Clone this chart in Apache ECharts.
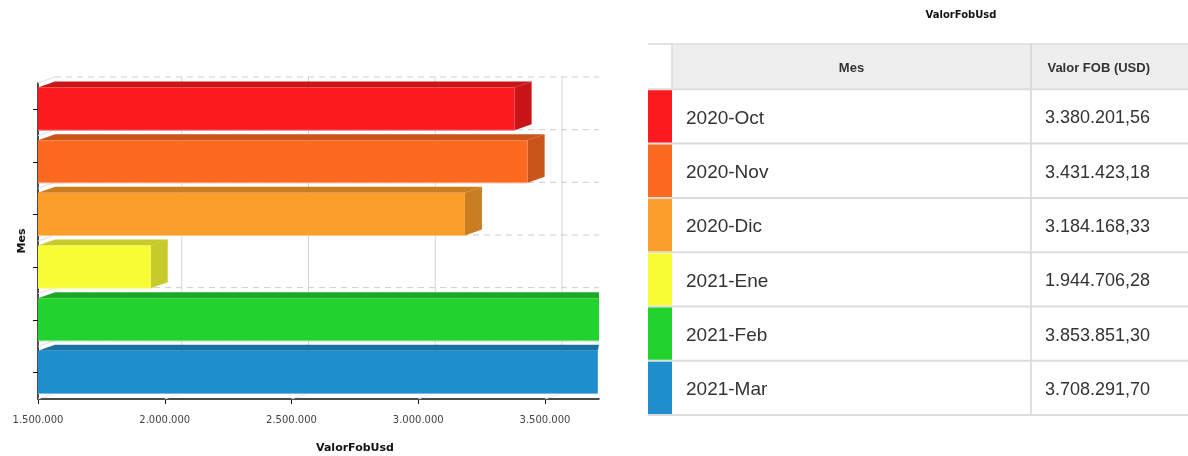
<!DOCTYPE html>
<html><head><meta charset="utf-8">
<script src="https://cdn.jsdelivr.net/npm/echarts@6/dist/echarts.min.js"></script>
<style>html,body{margin:0;padding:0;background:#fff}#c{width:1188px;height:456px}</style>
</head><body><div id="c"></div><script>
// ---- data ----
const months = ['2020-Oct', '2020-Nov', '2020-Dic', '2021-Ene', '2021-Feb', '2021-Mar'];
const values = [3380201.56, 3431423.18, 3184168.33, 1944706.28, 3853851.30, 3708291.70];
const colors = ['#FC1A1E', '#FC6A22', '#FC9E2A', '#F8FC34', '#22D22E', '#1E8ECD'];
const xTicks = [1500000, 2000000, 2500000, 3000000, 3500000];
const xMin = 1500000;
const xMax = 3713000;
const tableHeaders = ['Mes', 'Valor FOB (USD)'];
const chartTitle = 'ValorFobUsd';
const xName = 'ValorFobUsd';
const yName = 'Mes';

// ---- helpers ----
const DX = 17, DY = 6;
function fmtInt(v) { return String(Math.round(v)).replace(/\B(?=(\d{3})+(?!\d))/g, '.'); }
function fmtDec(v) { const p = v.toFixed(2).split('.'); return fmtInt(+p[0]) + ',' + p[1]; }
function shade(hex, f) {
  const n = parseInt(hex.slice(1), 16);
  const r = Math.round(((n >> 16) & 255) * f), g = Math.round(((n >> 8) & 255) * f), b = Math.round((n & 255) * f);
  return 'rgb(' + r + ',' + g + ',' + b + ')';
}
function tint(hex, f) {
  const n = parseInt(hex.slice(1), 16);
  const c = [(n >> 16) & 255, (n >> 8) & 255, n & 255].map(x => Math.round(x + (255 - x) * f));
  return 'rgb(' + c.join(',') + ')';
}

const chart = echarts.init(document.getElementById('c'), null, { renderer: 'canvas' });

function renderBar(params, api) {
  const cs = params.coordSys;
  const val = api.value(0), idx = api.value(1);
  const start = api.coord([xMin, idx]);
  const end = api.coord([val, idx]);
  const band = api.size([0, 1])[1];
  const h = band * 0.81;
  const yTop = start[1] - h / 2 - 0.5, yBot = yTop + h;
  const right = cs.x + cs.width;
  const x0 = start[0];
  const clipped = end[0] >= right - 2;
  const x1 = Math.min(end[0], right);
  const cl = p => [Math.min(p[0], right), p[1]];
  const col = colors[params.dataIndex];
  const children = [];
  children.push({ type: 'polygon', shape: { points: [[x0, yTop], [x0 + DX, yTop - DY], [x1 + DX, yTop - DY], [x1, yTop]].map(cl) }, style: { fill: shade(col, 0.8) } });
  if (!clipped) {
    children.push({ type: 'polygon', shape: { points: [[x1, yTop], [x1 + DX, yTop - DY], [x1 + DX, yBot - DY], [x1, yBot]].map(cl) }, style: { fill: shade(col, 0.8) } });
  }
  children.push({ type: 'rect', shape: { x: x0, y: yTop, width: x1 - x0, height: h }, style: { fill: col } });
  children.push({ type: 'line', shape: { x1: x0, y1: yBot, x2: x1, y2: yBot }, style: { stroke: tint(col, 0.4), lineWidth: 1 } });
  return { type: 'group', children };
}

function renderWallV(params, api) {
  const cs = params.coordSys;
  const p = api.coord([api.value(0), 0]);
  const x = p[0];
  const bottom = cs.y + cs.height;
  const ch = [];
  if (params.dataIndex > 0) {
    ch.push({ type: 'line', shape: { x1: x + DX, y1: cs.y - DY, x2: x + DX, y2: bottom - DY }, style: { stroke: '#D4D4D4', lineWidth: 1 } });
  }
  ch.push({ type: 'line', shape: { x1: x, y1: bottom, x2: x + DX, y2: bottom - DY }, style: { stroke: '#EAEAEA', lineWidth: 1 } });
  return { type: 'group', children: ch };
}

function renderWallH(params, api) {
  const cs = params.coordSys;
  const p = api.coord([xMin, api.value(1)]);
  const band = api.size([0, 1])[1];
  const yb = p[1] - band / 2;
  const right = cs.x + cs.width;
  return { type: 'group', children: [
    { type: 'line', shape: { x1: cs.x + DX, y1: yb - DY, x2: right, y2: yb - DY }, style: { stroke: '#CCCCCC', lineWidth: 1, lineDash: [6, 5] } },
    { type: 'line', shape: { x1: cs.x, y1: yb, x2: cs.x + DX, y2: yb - DY }, style: { stroke: '#DDDDDD', lineWidth: 1 } }
  ] };
}

// ---- table as graphic ----
const TL = 648, SW = 24, C1 = 672, C2 = 1031, TR = 1188, HT = 44, HH = 45.3, RH = 54.3;
const tableFont = '"Liberation Sans", Arial, sans-serif';
const g = [];
g.push({ type: 'rect', shape: { x: C1, y: HT, width: TR - C1, height: HH }, style: { fill: '#EEEEEE' }, z: 1 });
g.push({ type: 'line', shape: { x1: TL, y1: HT, x2: TR, y2: HT }, style: { stroke: '#E2E2E2', lineWidth: 2 }, z: 2 });
g.push({ type: 'line', shape: { x1: C1, y1: HT, x2: C1, y2: HT + HH }, style: { stroke: '#D8D8D8', lineWidth: 1.5 }, z: 2 });
const tableBottom = HT + HH + RH * months.length;
g.push({ type: 'line', shape: { x1: C2, y1: HT, x2: C2, y2: tableBottom }, style: { stroke: '#D4D4D4', lineWidth: 1.5 }, z: 2 });
for (let i = 0; i <= months.length; i++) {
  const y = HT + HH + RH * i;
  g.push({ type: 'line', shape: { x1: TL, y1: y, x2: TR, y2: y }, style: { stroke: '#DCDCDC', lineWidth: 2 }, z: 2 });
}
months.forEach((m, i) => {
  const y = HT + HH + RH * i;
  g.push({ type: 'rect', shape: { x: TL, y: y + 1, width: SW, height: RH - 2 }, style: { fill: colors[i] }, z: 3 });
  g.push({ type: 'text', x: 686, y: y + RH / 2 + 2, style: { text: m, fontFamily: tableFont, fontSize: 19, fill: '#333', verticalAlign: 'middle', align: 'left' }, z: 3 });
  g.push({ type: 'text', x: 1150, y: y + RH / 2 + 2, style: { text: fmtDec(values[i]), fontFamily: tableFont, fontSize: 18, fill: '#333', verticalAlign: 'middle', align: 'right' }, z: 3 });
});
g.push({ type: 'text', x: (C1 + C2) / 2, y: HT + HH / 2 + 1.5, style: { text: tableHeaders[0], fontFamily: tableFont, fontSize: 13, fontWeight: 'bold', fill: '#333', align: 'center', verticalAlign: 'middle' }, z: 3 });
g.push({ type: 'text', x: 1150, y: HT + HH / 2 + 1.5, style: { text: tableHeaders[1], fontFamily: tableFont, fontSize: 13, fontWeight: 'bold', fill: '#333', align: 'right', verticalAlign: 'middle' }, z: 3 });
g.push({ type: 'text', x: 961, y: 15, style: { text: chartTitle, fontFamily: 'DejaVu Sans', fontSize: 10, fontWeight: 'bold', fill: '#111', align: 'center', verticalAlign: 'middle' }, z: 3 });
g.push({ type: 'text', x: 355, y: 448, style: { text: xName, fontFamily: 'DejaVu Sans', fontSize: 11, fontWeight: 'bold', fill: '#111', align: 'center', verticalAlign: 'middle' }, z: 3 });

const option = {
  animation: false,
  backgroundColor: '#fff',
  grid: { left: 38, top: 83, width: 561, height: 316, containLabel: false, outerBoundsMode: 'none' },
  xAxis: {
    type: 'value', min: xMin, max: xMax, interval: 500000,
    axisLine: { show: true, lineStyle: { color: '#111', width: 1.5 } },
    axisTick: { show: true, length: 5, customValues: xTicks, lineStyle: { color: '#111' } },
    axisLabel: { customValues: xTicks, formatter: v => fmtInt(v), fontFamily: 'DejaVu Sans', fontSize: 10, color: '#444', margin: 16 },
    splitLine: { show: false }
  },
  yAxis: {
    type: 'category', data: months, inverse: true,
    name: yName, nameLocation: 'middle', nameGap: 10,
    nameTextStyle: { fontFamily: 'DejaVu Sans', fontSize: 11, fontWeight: 'bold', color: '#111' },
    axisLine: { show: true, lineStyle: { color: '#111', width: 1.5 } },
    axisTick: { show: true, alignWithLabel: true, length: 5, lineStyle: { color: '#111' } },
    axisLabel: { show: false },
    splitLine: { show: false }
  },
  graphic: g,
  series: [
    { type: 'custom', name: 'wallV', clip: false, silent: true, z: 1, renderItem: renderWallV, encode: { x: 0, y: 1 }, data: xTicks.map(v => [v, 0]) },
    { type: 'custom', name: 'wallH', clip: false, silent: true, z: 1, renderItem: renderWallH, encode: { x: 0, y: 1 }, data: months.map((m, i) => [xMin, i]) },
    { type: 'custom', name: 'ValorFobUsd', clip: false, z: 3, renderItem: renderBar, encode: { x: 0, y: 1 }, data: values.map((v, i) => [v, i]) }
  ]
};
chart.setOption(option);
</script></body></html>
